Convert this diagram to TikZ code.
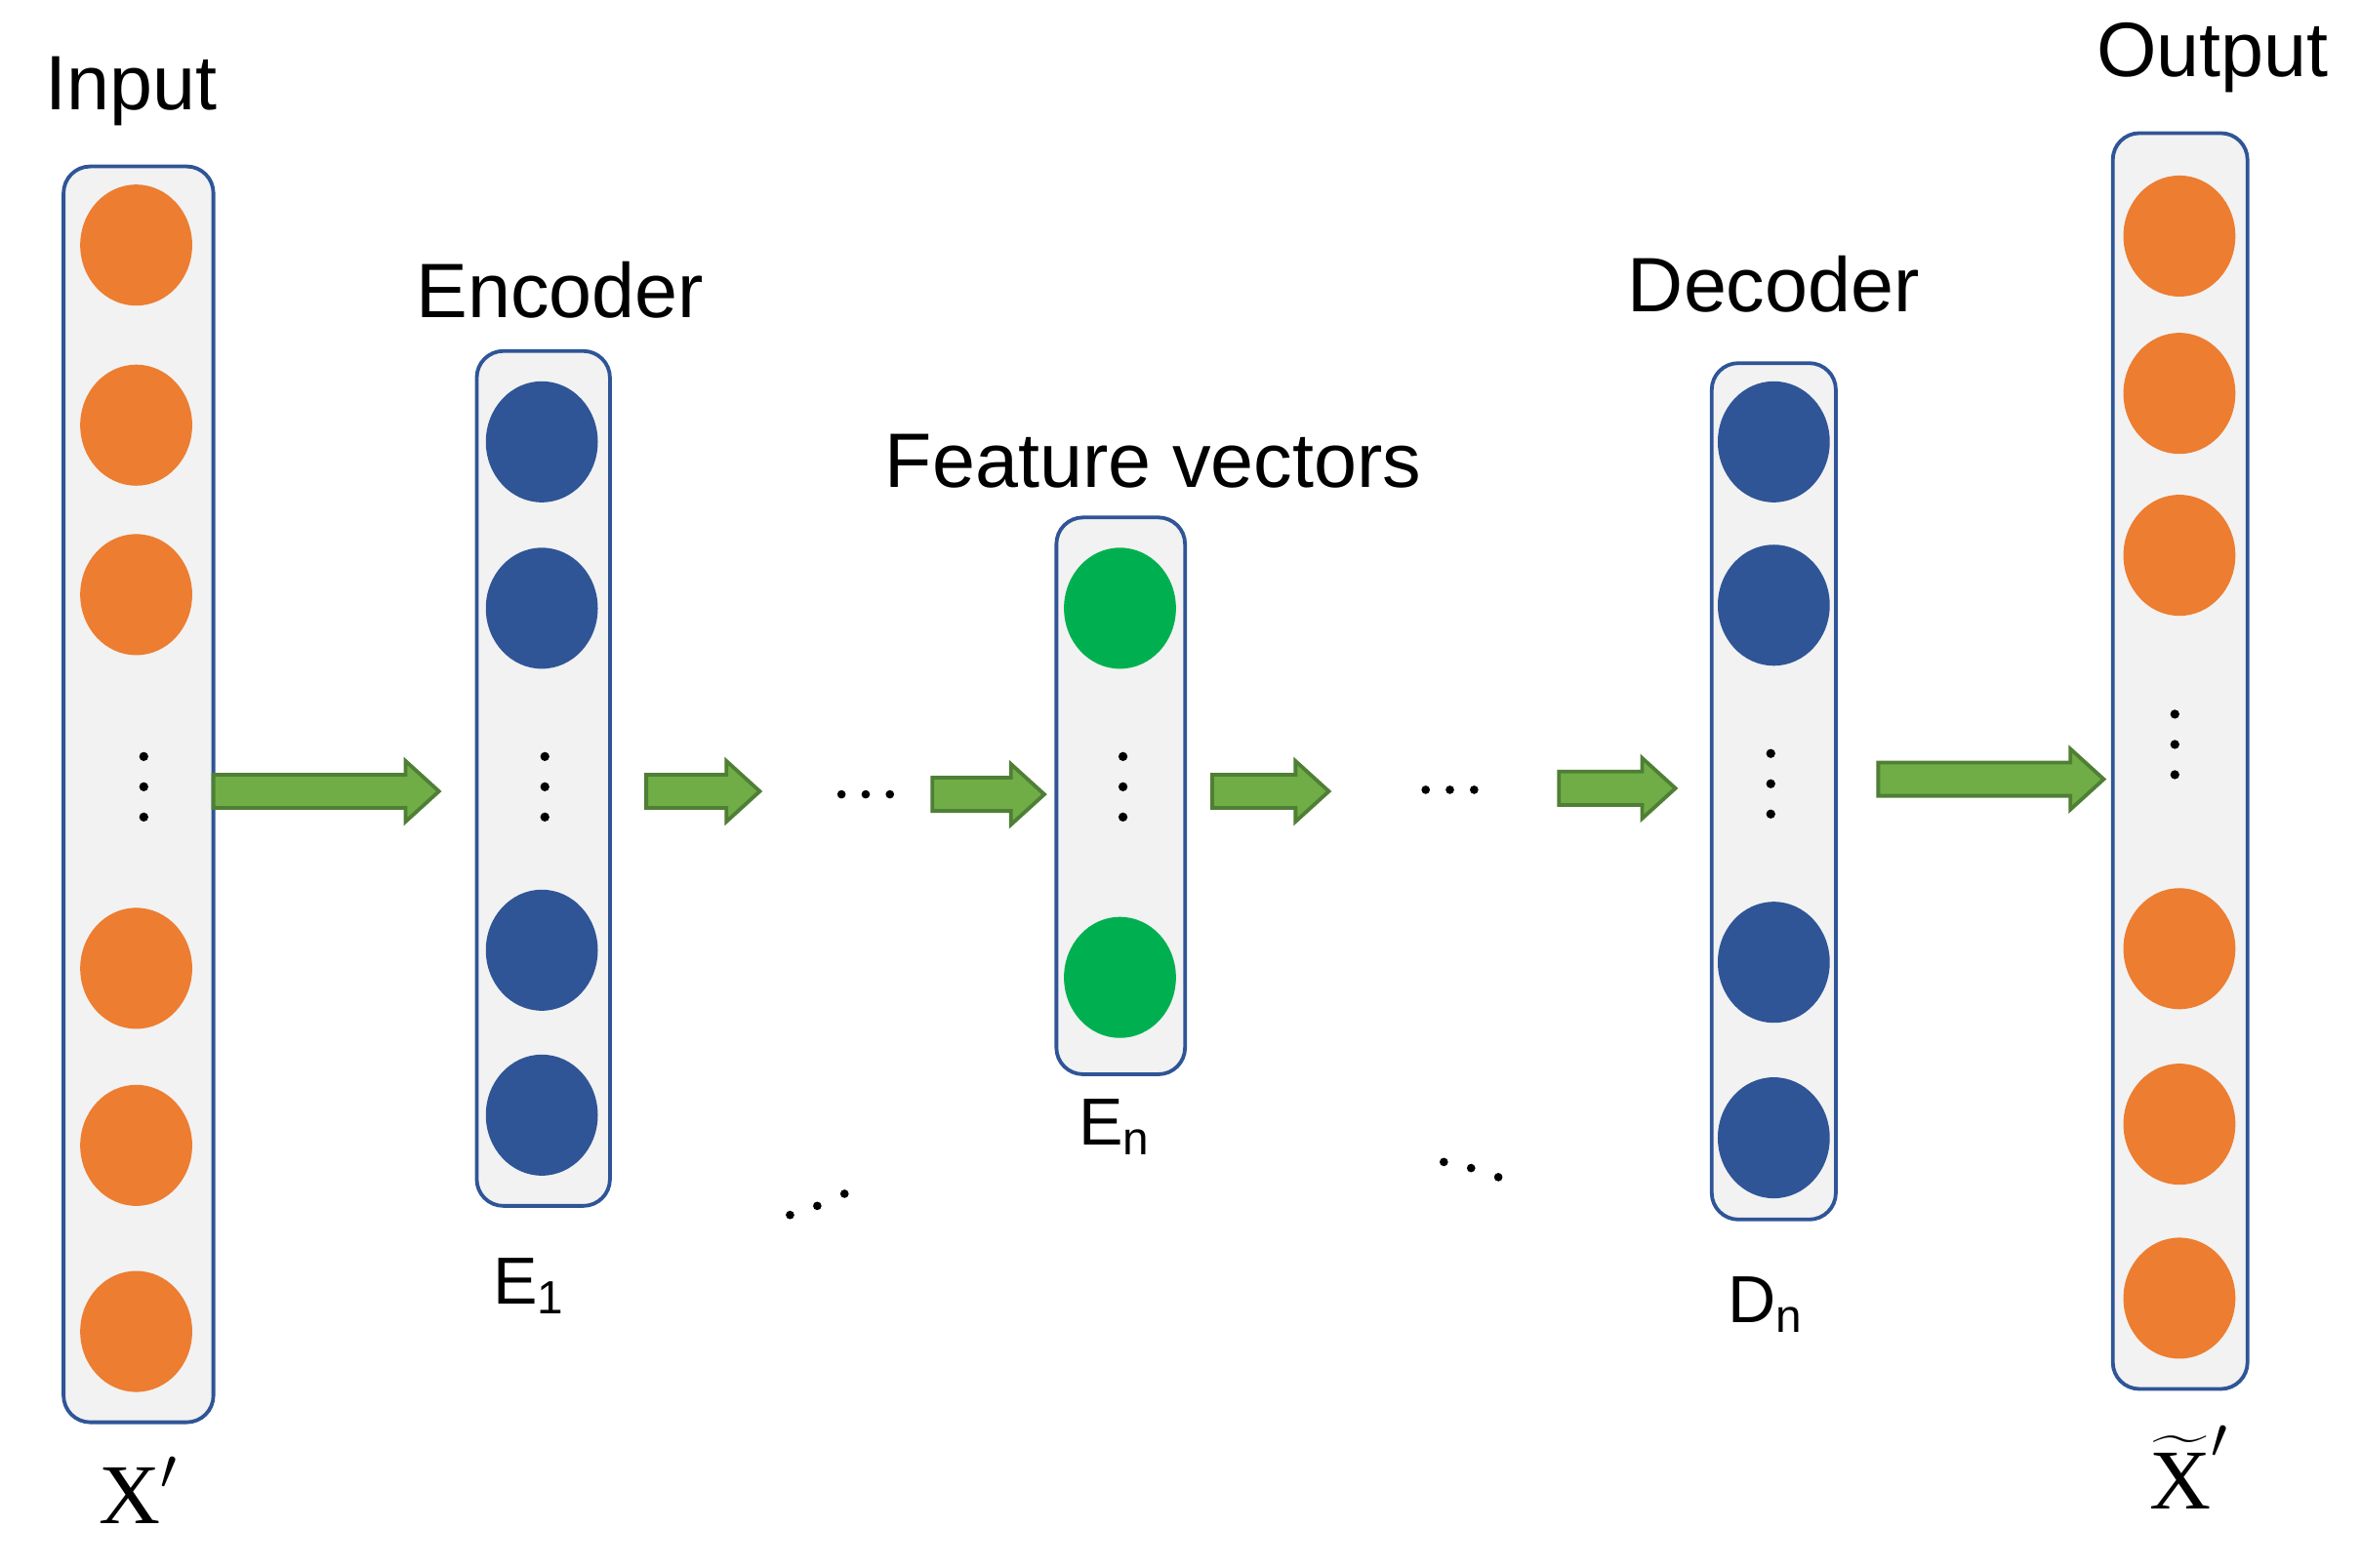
\documentclass[tikz,border=0pt]{standalone}
\usepackage{fontspec}
\setmainfont{Liberation Sans}
\newfontfamily\serifx{Liberation Serif}
\begin{document}
\begin{tikzpicture}[x=0.01cm,y=-0.01cm]
\definecolor{orc}{HTML}{ED7D31}\definecolor{blc}{HTML}{2F5597}\definecolor{gnc}{HTML}{00B050}
\definecolor{arc}{HTML}{70AD47}\definecolor{ard}{HTML}{4F7F35}\definecolor{bxd}{HTML}{2F5597}
\tikzset{orn/.style={fill=orc},blu/.style={fill=blc},grn/.style={fill=gnc},
  arr/.style={fill=arc,draw=ard,line width=0.7pt},box/.style={draw=bxd,fill=black!5,rounded corners=5pt,line width=0.7pt},
  lab/.style={font=\fontsize{14.5}{16}\selectfont},
  sub/.style={font=\fontsize{12.5}{14}\selectfont}}
\useasboundingbox (0,0) rectangle (1560,1036);
\newcommand\barrow[3]{\path[arr] (#1,#3-11) -- (#2-22,#3-11) -- (#2-22,#3-20) -- (#2,#3) -- (#2-22,#3+20) -- (#2-22,#3+11) -- (#1,#3+11) -- cycle;}
\newcommand\vd[2]{\foreach \d in {-20,0,20}{\fill (#1,#2+\d) circle (3);}}
\newcommand\hd[2]{\foreach \d in {-16,0,16}{\fill (#1+\d,#2) circle (2.8);}}
% boxes
\draw[box] (42,110) rectangle (141,940);
\draw[box] (315,232) rectangle (403,797);
\draw[box] (698,342) rectangle (783,710);
\draw[box] (1131,240) rectangle (1213,806);
\draw[box] (1396,88) rectangle (1485,918);
\foreach \y in {162,281,393,640,757,880}{\path[orn] (90,\y) ellipse (37 and 40);}
\foreach \y in {292,402,628,737}{\path[blu] (358,\y) ellipse (37 and 40);}
\foreach \y in {402,646}{\path[grn] (740,\y) ellipse (37 and 40);}
\foreach \y in {292,400,636,752}{\path[blu] (1172,\y) ellipse (37 and 40);}
\foreach \y in {156,260,367,627,743,858}{\path[orn] (1440,\y) ellipse (37 and 40);}
\vd{95}{520}\vd{360}{520}\vd{742}{520}\vd{1170}{518}\vd{1437}{492}
\hd{572}{525}\hd{958}{522}
\foreach \p in {(522,803),(540,797),(558,789),(954,768),(972,772),(990,778)}{\fill \p circle (2.8);}
% arrows
\barrow{141}{290}{523}\barrow{427}{502}{523}\barrow{616}{690}{525}
\barrow{801}{878}{523}\barrow{1030}{1107}{521}\barrow{1241}{1390}{515}
% labels
\node[lab] (in) at (87,60) {Input};
\node[lab] (enc) at (370,192) {Encoder};
\node[lab] (fv) at (762,305) {Feature vectors};
\node[lab] (dec) at (1172,188) {Decoder};
\node[lab] (out) at (1462,38) {Output};
\node[sub] (e1) at (350,850) {E\textsubscript{1}};
\node[sub] (en) at (737,745) {E\textsubscript{n}};
\node[sub] (dn) at (1167,862) {D\textsubscript{n}};
\node[font=\serifx\fontsize{16}{18}\selectfont] (x) at (92,985) {X$'$};
\node[font=\serifx\fontsize{16}{18}\selectfont] (xt) at (1447,970) {$\widetilde{\mbox{X}}'$};
\end{tikzpicture}
\end{document}
